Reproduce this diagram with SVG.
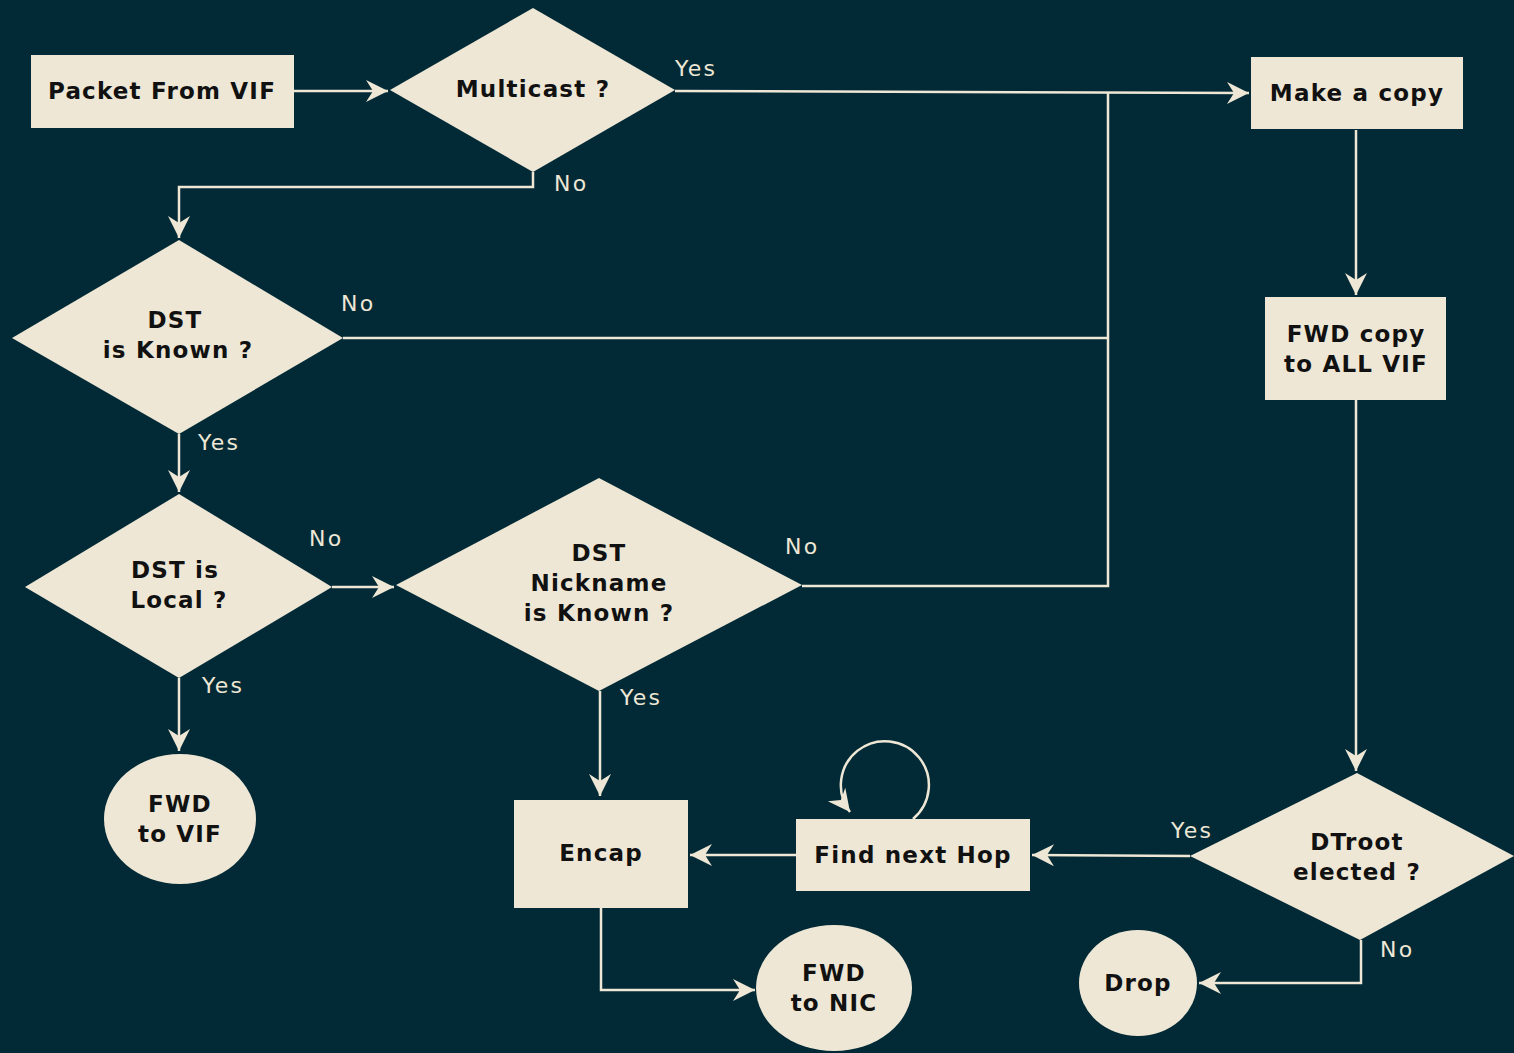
<svg xmlns="http://www.w3.org/2000/svg" width="1514" height="1053" viewBox="0 0 1514 1053">
<defs>
<style>
.n{fill:#eee7d5;stroke:none}
.t{font-family:"DejaVu Sans",sans-serif;font-weight:bold;font-size:23px;fill:#111;text-anchor:middle;letter-spacing:1.2px}
.l{font-family:"DejaVu Sans",sans-serif;font-size:22px;fill:#eee7d5;letter-spacing:2.2px}
.c{fill:none;stroke:#eee7d5;stroke-width:2.5}
</style>
<marker id="a" markerUnits="userSpaceOnUse" markerWidth="24" markerHeight="24" viewBox="-23 -12 24 24" refX="0" refY="0" orient="auto">
<path d="M0,0 L-22,-11 L-15,0 L-22,11 Z" fill="#eee7d5"/>
</marker>
</defs>
<rect width="1514" height="1053" fill="#022a36"/>
<g id="connectors">
<path class="c" d="M294,91 H388" marker-end="url(#a)"/>
<path class="c" d="M675,91 L1249,93" marker-end="url(#a)"/>
<path class="c" d="M1356,130 V295" marker-end="url(#a)"/>
<path class="c" d="M1356,400 V771" marker-end="url(#a)"/>
<path class="c" d="M533,172 V187 H179 V238" marker-end="url(#a)"/>
<path class="c" d="M343,338 H1108"/>
<path class="c" d="M1108,92 V586 H802"/>
<path class="c" d="M179,434 V492" marker-end="url(#a)"/>
<path class="c" d="M332,587 H394" marker-end="url(#a)"/>
<path class="c" d="M179,678 V751" marker-end="url(#a)"/>
<path class="c" d="M600,691 V796" marker-end="url(#a)"/>
<path class="c" d="M1190,856 L1032,855" marker-end="url(#a)"/>
<path class="c" d="M796,855 H690" marker-end="url(#a)"/>
<path class="c" d="M913,819 A44,44 0 1 0 850,812" marker-end="url(#a)"/>
<path class="c" d="M601,908 V990 H755" marker-end="url(#a)"/>
<path class="c" d="M1361,940 V983 H1199" marker-end="url(#a)"/>
</g>
<g id="labels">
<text class="l" x="675" y="76">Yes</text>
<text class="l" x="554" y="191">No</text>
<text class="l" x="341" y="311">No</text>
<text class="l" x="198" y="450">Yes</text>
<text class="l" x="309" y="546">No</text>
<text class="l" x="785" y="554">No</text>
<text class="l" x="202" y="693">Yes</text>
<text class="l" x="620" y="705">Yes</text>
<text class="l" x="1171" y="838">Yes</text>
<text class="l" x="1380" y="957">No</text>
</g>
<g id="packet">
<rect class="n" x="31" y="55" width="263" height="73"/>
<text class="t" x="162" y="99">Packet From VIF</text>
</g>
<g id="multicast">
<polygon class="n" points="533,8 675,90 533,172 390,90"/>
<text class="t" x="533" y="97">Multicast ?</text>
</g>
<g id="makecopy">
<rect class="n" x="1251" y="57" width="212" height="72"/>
<text class="t" x="1357" y="101">Make a copy</text>
</g>
<g id="fwdcopy">
<rect class="n" x="1265" y="297" width="181" height="103"/>
<text class="t" x="1356" y="342">FWD copy</text>
<text class="t" x="1356" y="372">to ALL VIF</text>
</g>
<g id="dstknown">
<polygon class="n" points="179,240 343,338 179,434 12,338"/>
<text class="t" x="175" y="328">DST</text>
<text class="t" x="178" y="358">is Known ?</text>
</g>
<g id="dstlocal">
<polygon class="n" points="179,494 332,587 179,678 25,587"/>
<text class="t" x="175" y="578">DST is</text>
<text class="t" x="179" y="608">Local ?</text>
</g>
<g id="nickname">
<polygon class="n" points="599,478 802,585 599,691 396,585"/>
<text class="t" x="599" y="561">DST</text>
<text class="t" x="599" y="591">Nickname</text>
<text class="t" x="599" y="621">is Known ?</text>
</g>
<g id="fwdvif">
<ellipse class="n" cx="180" cy="819" rx="76" ry="65"/>
<text class="t" x="180" y="812">FWD</text>
<text class="t" x="180" y="842">to VIF</text>
</g>
<g id="encap">
<rect class="n" x="514" y="800" width="174" height="108"/>
<text class="t" x="601" y="861">Encap</text>
</g>
<g id="findhop">
<rect class="n" x="796" y="819" width="234" height="72"/>
<text class="t" x="913" y="863">Find next Hop</text>
</g>
<g id="fwdnic">
<ellipse class="n" cx="834" cy="988" rx="78" ry="63"/>
<text class="t" x="834" y="981">FWD</text>
<text class="t" x="834" y="1011">to NIC</text>
</g>
<g id="dtroot">
<polygon class="n" points="1357,773 1514,856 1360,940 1190,856"/>
<text class="t" x="1357" y="850">DTroot</text>
<text class="t" x="1357" y="880">elected ?</text>
</g>
<g id="drop">
<ellipse class="n" cx="1138" cy="983" rx="59" ry="53"/>
<text class="t" x="1138" y="991">Drop</text>
</g>
</svg>
